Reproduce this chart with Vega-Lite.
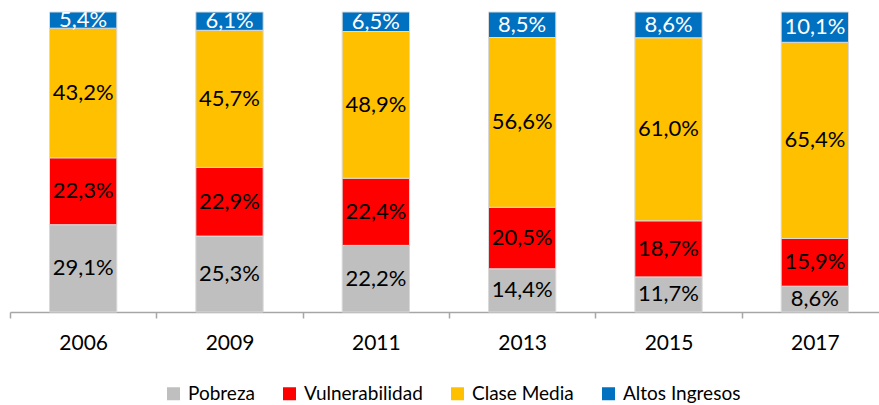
{
  "$schema": "https://vega.github.io/schema/vega-lite/v6.json",
  "width": 869,
  "height": 300,
  "autosize": {"type": "none"},
  "padding": {"left": 10, "top": 12, "right": 0, "bottom": 93},
  "config": {"view": {"stroke": null}, "font": "Lato"},
  "data": {
    "values": [
      {"year": "2006", "cat": "Pobreza", "order": 1, "value": 29.1},
      {"year": "2006", "cat": "Vulnerabilidad", "order": 2, "value": 22.3},
      {"year": "2006", "cat": "Clase Media", "order": 3, "value": 43.2},
      {"year": "2006", "cat": "Altos Ingresos", "order": 4, "value": 5.4},
      {"year": "2009", "cat": "Pobreza", "order": 1, "value": 25.3},
      {"year": "2009", "cat": "Vulnerabilidad", "order": 2, "value": 22.9},
      {"year": "2009", "cat": "Clase Media", "order": 3, "value": 45.7},
      {"year": "2009", "cat": "Altos Ingresos", "order": 4, "value": 6.1},
      {"year": "2011", "cat": "Pobreza", "order": 1, "value": 22.2},
      {"year": "2011", "cat": "Vulnerabilidad", "order": 2, "value": 22.4},
      {"year": "2011", "cat": "Clase Media", "order": 3, "value": 48.9},
      {"year": "2011", "cat": "Altos Ingresos", "order": 4, "value": 6.5},
      {"year": "2013", "cat": "Pobreza", "order": 1, "value": 14.4},
      {"year": "2013", "cat": "Vulnerabilidad", "order": 2, "value": 20.5},
      {"year": "2013", "cat": "Clase Media", "order": 3, "value": 56.6},
      {"year": "2013", "cat": "Altos Ingresos", "order": 4, "value": 8.5},
      {"year": "2015", "cat": "Pobreza", "order": 1, "value": 11.7},
      {"year": "2015", "cat": "Vulnerabilidad", "order": 2, "value": 18.7},
      {"year": "2015", "cat": "Clase Media", "order": 3, "value": 61.0},
      {"year": "2015", "cat": "Altos Ingresos", "order": 4, "value": 8.6},
      {"year": "2017", "cat": "Pobreza", "order": 1, "value": 8.6},
      {"year": "2017", "cat": "Vulnerabilidad", "order": 2, "value": 15.9},
      {"year": "2017", "cat": "Clase Media", "order": 3, "value": 65.4},
      {"year": "2017", "cat": "Altos Ingresos", "order": 4, "value": 10.1}
    ]
  },
  "transform": [
    {"stack": "value", "groupby": ["year"], "sort": [{"field": "order", "order": "ascending"}], "as": ["y0", "y1"]},
    {"calculate": "(datum.y0 + datum.y1) / 2", "as": "mid"},
    {"calculate": "replace(format(datum.value, '.1f'), '.', ',') + '%'", "as": "label"}
  ],
  "encoding": {
    "x": {
      "field": "year",
      "type": "ordinal",
      "scale": {"range": [0, 878], "paddingInner": 0, "paddingOuter": 0},
      "axis": {
        "title": null,
        "tickBand": "extent",
        "domainColor": "#a6a6a6",
        "domainWidth": 1.5,
        "tickColor": "#a6a6a6",
        "tickWidth": 1.5,
        "tickSize": 6,
        "labelFontSize": 21,
        "labelColor": "#000000",
        "labelPadding": 14,
        "labelAngle": 0
      }
    }
  },
  "layer": [
    {
      "mark": {"type": "bar", "width": {"band": 0.46}, "stroke": "#d9d9d9", "strokeWidth": 1},
      "encoding": {
        "y": {"field": "y0", "type": "quantitative", "scale": {"domain": [0, 100]}, "axis": null},
        "y2": {"field": "y1"},
        "color": {
          "field": "cat",
          "type": "nominal",
          "scale": {
            "domain": ["Pobreza", "Vulnerabilidad", "Clase Media", "Altos Ingresos"],
            "range": ["#bfbfbf", "#ff0000", "#ffc000", "#0070c0"]
          },
          "legend": {
            "title": null,
            "orient": "none",
            "legendX": 154,
            "legendY": 372,
            "direction": "horizontal",
            "padding": 0,
            "symbolType": "square",
            "symbolSize": 169,
            "symbolStrokeWidth": 0,
            "labelFontSize": 19,
            "labelColor": "#000000",
            "columnPadding": 25,
            "labelOffset": 5
          }
        }
      }
    },
    {
      "mark": {"type": "text", "fontSize": 22},
      "encoding": {
        "y": {"field": "mid", "type": "quantitative"},
        "text": {"field": "label"},
        "color": {"condition": {"test": "datum.cat === 'Altos Ingresos'", "value": "#ffffff"}, "value": "#000000"}
      }
    }
  ]
}
